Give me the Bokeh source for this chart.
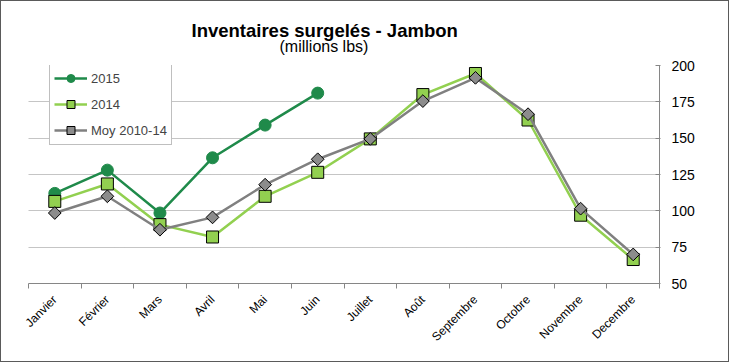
import math
from bokeh.plotting import figure
from bokeh.models import Range1d, FixedTicker, Legend, LegendItem, Title
from bokeh.embed import file_html
from bokeh.resources import INLINE

months = ["Janvier", "Février", "Mars", "Avril", "Mai", "Juin", "Juillet",
          "Août", "Septembre", "Octobre", "Novembre", "Decembre"]
y2015 = [112, 128, 98.5, 136.5, 159, 181]
y2014 = [106.5, 118.5, 90.5, 82, 110, 126.5, 149.5, 180, 194.5, 162.5, 97, 66.5]
ymoy = [98.5, 110, 87, 95.5, 118, 135.5, 149.5, 175.5, 191.5, 166.5, 101.5, 70]
yticks = [50, 75, 100, 125, 150, 175, 200]

FONT = "Liberation Sans"
C2015 = "#1F8A4A"
C2014 = "#92D050"
CMOY = "#808080"

xs = list(range(1, len(months) + 1))

p = figure(width=729, height=362, output_backend="svg", toolbar_location=None,
           x_range=Range1d(0.5, len(months) + 0.5), y_range=Range1d(50, 200),
           y_axis_location="right",
           min_border_left=27, min_border_right=71, min_border_top=64, min_border_bottom=80)
p.outline_line_color = None
p.background_fill_color = "white"
p.border_fill_color = "white"
p.styles = {"border": "1px solid #5a5a5a"}

# x axis
p.xaxis.ticker = FixedTicker(ticks=xs, minor_ticks=[i + 0.5 for i in range(0, len(months) + 1)])
p.xaxis.major_label_overrides = {x: m for x, m in zip(xs, months)}
p.xaxis.major_label_orientation = math.pi / 4
p.xaxis.major_tick_line_color = None
p.xaxis.minor_tick_line_color = "#868686"
p.xaxis.minor_tick_in = 0
p.xaxis.minor_tick_out = 5
p.xaxis.axis_line_color = "#868686"
p.xaxis.major_label_text_font = FONT
p.xaxis.major_label_text_font_size = "12px"
p.xaxis.major_label_text_color = "black"
p.xaxis.major_label_standoff = 8

# y axis
p.yaxis.ticker = FixedTicker(ticks=yticks)
p.yaxis.axis_line_color = "#868686"
p.yaxis.major_tick_line_color = "#868686"
p.yaxis.major_tick_in = 4
p.yaxis.major_tick_out = 1
p.yaxis.minor_tick_line_color = None
p.yaxis.major_label_text_font = FONT
p.yaxis.major_label_text_font_size = "14px"
p.yaxis.major_label_text_color = "black"
p.yaxis.major_label_standoff = 11

p.xgrid.visible = False
p.ygrid.ticker = FixedTicker(ticks=yticks[1:])
p.ygrid.grid_line_color = "#8a8a8a"
p.ygrid.grid_line_dash = "1 1"
p.ygrid.grid_line_width = 1

# series
l15 = p.line(xs[:len(y2015)], y2015, line_color=C2015, line_width=2.5)
s15 = p.scatter(xs[:len(y2015)], y2015, marker="circle", size=12,
                fill_color=C2015, line_color=C2015)
l14 = p.line(xs, y2014, line_color=C2014, line_width=2.5)
s14 = p.scatter(xs, y2014, marker="square", size=12,
                fill_color=C2014, line_color="black", line_width=1)
lm = p.line(xs, ymoy, line_color=CMOY, line_width=2.5)
sm = p.scatter(xs, ymoy, marker="square", angle=math.pi / 4, size=9,
               fill_color="#8c8c8c", line_color="black", line_width=1)

legend = Legend(items=[
    LegendItem(label="2015", renderers=[l15, s15]),
    LegendItem(label="2014", renderers=[l14, s14]),
    LegendItem(label="Moy 2010-14", renderers=[lm, sm]),
], location=(21, 138))
legend.border_line_color = "#808080"
legend.border_line_width = 1
legend.background_fill_color = "white"
legend.background_fill_alpha = 1
legend.label_text_font = FONT
legend.label_text_font_size = "13px"
legend.glyph_width = 33
legend.glyph_height = 20
legend.label_height = 20
legend.spacing = 6
legend.padding = 4
legend.margin = 0
legend.label_standoff = 4
p.add_layout(legend)

subtitle = Title(text="(millions lbs)", align="left", offset=251,
                 text_font=FONT, text_font_size="16px", text_font_style="normal",
                 text_color="black", standoff=21, text_line_height=0.5)
title = Title(text="Inventaires surgelés - Jambon", align="left", offset=163,
              text_font=FONT, text_font_size="18.5px", text_font_style="bold",
              text_color="black", standoff=-30)
p.add_layout(subtitle, "above")
p.add_layout(title, "above")

open("out.html", "w").write(file_html(p, INLINE))
